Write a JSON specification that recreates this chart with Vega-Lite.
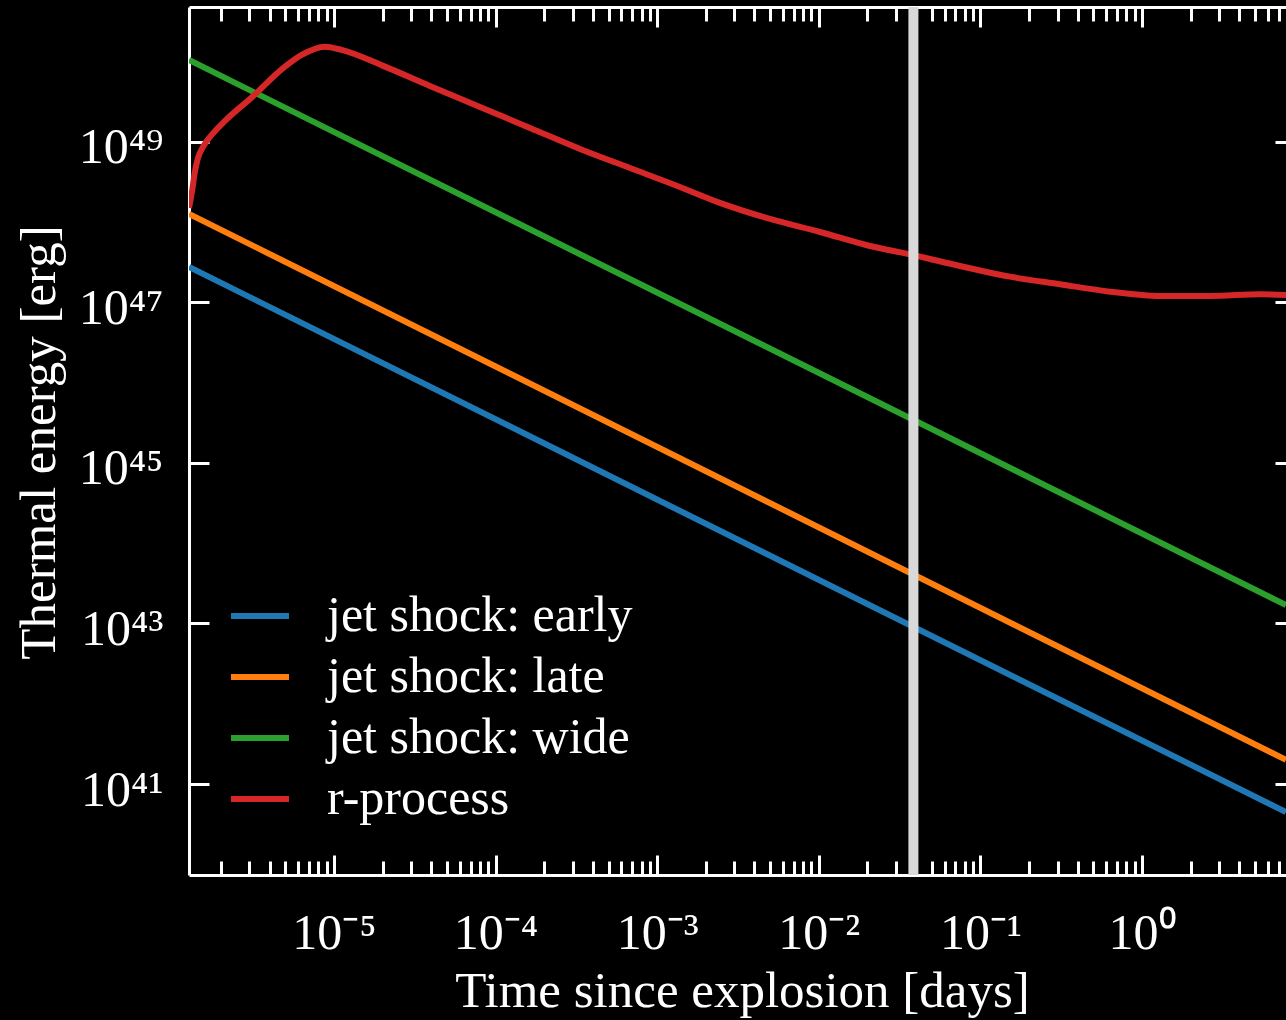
{
  "$schema": "https://vega.github.io/schema/vega-lite/v6.json",
  "width": 1097,
  "height": 868,
  "autosize": {"type": "none"},
  "padding": {"left": 189, "top": 7, "right": 0, "bottom": 145},
  "background": "black",
  "config": {
    "view": {"stroke": null},
    "font": "Liberation Serif",
    "axis": {
      "grid": false,
      "domainColor": "white",
      "domainWidth": 3,
      "tickColor": "white",
      "tickWidth": 3,
      "labelColor": "white",
      "labelFont": "Liberation Serif",
      "labelFontSize": 50,
      "labelOverlap": false,
      "labelFlush": false,
      "labelLimit": 0,
      "titleColor": "white",
      "titleFont": "Liberation Serif",
      "titleFontSize": 51,
      "titleFontWeight": "normal"
    },
    "legend": {
      "orient": "none",
      "legendX": 39,
      "legendY": 577,
      "symbolType": "stroke",
      "symbolSize": 3364,
      "symbolStrokeWidth": 6,
      "labelFont": "Liberation Serif",
      "labelFontSize": 50,
      "labelColor": "white",
      "labelOffset": 35,
      "labelLimit": 0,
      "rowPadding": 4,
      "padding": 0
    }
  },
  "datasets": {
    "curves": [
      {"series": "jet shock: early", "t": 1.268e-6, "E": 2.752e47},
      {"series": "jet shock: early", "t": 7.78, "E": 4.49e40},
      {"series": "jet shock: late", "t": 1.268e-6, "E": 1.259e48},
      {"series": "jet shock: late", "t": 7.78, "E": 2.0e41},
      {"series": "jet shock: wide", "t": 1.268e-6, "E": 1.04e50},
      {"series": "jet shock: wide", "t": 7.78, "E": 1.698e43},
      {"series": "r-process", "t": 1.268e-6, "E": 1.493e48},
      {"series": "r-process", "t": 1.328e-6, "E": 2.5e48},
      {"series": "r-process", "t": 1.374e-6, "E": 4.036e48},
      {"series": "r-process", "t": 1.44e-6, "E": 6.2e48},
      {"series": "r-process", "t": 1.547e-6, "E": 8.59e48},
      {"series": "r-process", "t": 1.835e-6, "E": 1.35e49},
      {"series": "r-process", "t": 2.116e-6, "E": 1.811e49},
      {"series": "r-process", "t": 3.095e-6, "E": 3.548e49},
      {"series": "r-process", "t": 4.975e-6, "E": 8.59e49},
      {"series": "r-process", "t": 6.31e-6, "E": 1.202e50},
      {"series": "r-process", "t": 8.796e-6, "E": 1.524e50},
      {"series": "r-process", "t": 1.116e-5, "E": 1.387e50},
      {"series": "r-process", "t": 2.068e-5, "E": 8.59e49},
      {"series": "r-process", "t": 3.926e-5, "E": 4.943e49},
      {"series": "r-process", "t": 8.008e-5, "E": 2.704e49},
      {"series": "r-process", "t": 1.633e-4, "E": 1.483e49},
      {"series": "r-process", "t": 3.33e-4, "E": 8.11e48},
      {"series": "r-process", "t": 6.787e-4, "E": 4.7e48},
      {"series": "r-process", "t": 1.384e-3, "E": 2.729e48},
      {"series": "r-process", "t": 2.446e-3, "E": 1.726e48},
      {"series": "r-process", "t": 4.989e-3, "E": 1.089e48},
      {"series": "r-process", "t": 1.017e-2, "E": 7.5e47},
      {"series": "r-process", "t": 2.074e-2, "E": 5.02e47},
      {"series": "r-process", "t": 3.827e-2, "E": 3.882e47},
      {"series": "r-process", "t": 7.478e-2, "E": 2.831e47},
      {"series": "r-process", "t": 0.1525, "E": 2.084e47},
      {"series": "r-process", "t": 0.3109, "E": 1.675e47},
      {"series": "r-process", "t": 0.6339, "E": 1.355e47},
      {"series": "r-process", "t": 1.292, "E": 1.197e47},
      {"series": "r-process", "t": 2.635, "E": 1.197e47},
      {"series": "r-process", "t": 5.373, "E": 1.259e47},
      {"series": "r-process", "t": 7.78, "E": 1.233e47}
    ],
    "marker": [{"t": 0.0385}]
  },
  "layer": [
    {
      "data": {"name": "curves"},
      "transform": [{"filter": "datum.series != 'r-process'"}],
      "mark": {"type": "line", "strokeWidth": 6, "clip": true},
      "encoding": {
        "x": {
          "field": "t",
          "type": "quantitative",
          "scale": {"type": "log", "domain": [1.268e-6, 7.78], "nice": false},
          "axis": {
            "orient": "bottom",
            "title": "Time since explosion [days]",
            "titleX": 553,
            "titleY": 131,
            "titleBaseline": "alphabetic",
            "values": [2e-6,3e-6,4e-6,5e-6,6e-6,7e-6,8e-6,9e-6,1e-5,2e-5,3e-5,4e-5,5e-5,6e-5,7e-5,8e-5,9e-5,0.0001,0.0002,0.0003,0.0004,0.0005,0.0006,0.0007,0.0008,0.0009,0.001,0.002,0.003,0.004,0.005,0.006,0.007,0.008,0.009,0.01,0.02,0.03,0.04,0.05,0.06,0.07,0.08,0.09,0.1,0.2,0.3,0.4,0.5,0.6,0.7,0.8,0.9,1,2,3,4,5,6,7],
            "labelExpr": "abs(log(datum.value)/LN10 - round(log(datum.value)/LN10)) > 0.01 ? '' : '10' + ['⁻⁶','⁻⁵','⁻⁴','⁻³','⁻²','⁻¹','⁰','¹'][round(log(datum.value)/LN10) + 6]",
            "labelBaseline": "alphabetic",
            "labelPadding": 93,
            "tickSize": {"condition": {"test": "abs(log(datum.value)/LN10 - round(log(datum.value)/LN10)) < 0.01", "value": -20}, "value": -14}
          }
        },
        "y": {
          "field": "E",
          "type": "quantitative",
          "scale": {"type": "log", "domain": [7.38e39, 4.75e50], "nice": false},
          "axis": {
            "orient": "left",
            "title": "Thermal energy [erg]",
            "titleX": -135,
            "titleY": 435,
            "titleBaseline": "alphabetic",
            "values": [1e41, 1e43, 1e45, 1e47, 1e49],
            "labelExpr": "'10' + ['⁴¹','⁴³','⁴⁵','⁴⁷','⁴⁹'][(round(log(datum.value)/LN10) - 41) / 2]",
            "labelPadding": 46,
            "labelOffset": 6,
            "tickSize": -20
          }
        },
        "color": {
          "field": "series",
          "type": "nominal",
          "title": null,
          "scale": {
            "domain": ["jet shock: early", "jet shock: late", "jet shock: wide", "r-process"],
            "range": ["#1f77b4", "#ff7f0e", "#2ca02c", "#d62728"]
          }
        }
      }
    },
    {
      "data": {"name": "curves"},
      "transform": [{"filter": "datum.series == 'r-process'"}],
      "mark": {"type": "line", "strokeWidth": 6, "clip": true, "interpolate": "monotone"},
      "encoding": {
        "x": {
          "field": "t",
          "type": "quantitative",
          "scale": {"type": "log", "domain": [1.268e-6, 7.78], "nice": false},
          "axis": {
            "orient": "top",
            "title": null,
            "labels": false,
            "values": [2e-6,3e-6,4e-6,5e-6,6e-6,7e-6,8e-6,9e-6,1e-5,2e-5,3e-5,4e-5,5e-5,6e-5,7e-5,8e-5,9e-5,0.0001,0.0002,0.0003,0.0004,0.0005,0.0006,0.0007,0.0008,0.0009,0.001,0.002,0.003,0.004,0.005,0.006,0.007,0.008,0.009,0.01,0.02,0.03,0.04,0.05,0.06,0.07,0.08,0.09,0.1,0.2,0.3,0.4,0.5,0.6,0.7,0.8,0.9,1,2,3,4,5,6,7],
            "tickSize": {"condition": {"test": "abs(log(datum.value)/LN10 - round(log(datum.value)/LN10)) < 0.01", "value": -20}, "value": -14}
          }
        },
        "y": {
          "field": "E",
          "type": "quantitative",
          "scale": {"type": "log", "domain": [7.38e39, 4.75e50], "nice": false},
          "axis": {
            "orient": "right",
            "title": null,
            "labels": false,
            "domain": false,
            "values": [1e41, 1e43, 1e45, 1e47, 1e49],
            "tickSize": -11
          }
        },
        "color": {
          "field": "series",
          "type": "nominal",
          "title": null,
          "scale": {
            "domain": ["jet shock: early", "jet shock: late", "jet shock: wide", "r-process"],
            "range": ["#1f77b4", "#ff7f0e", "#2ca02c", "#d62728"]
          }
        }
      }
    },
    {
      "data": {"name": "marker"},
      "mark": {"type": "rule", "color": "#d9d9d9", "strokeWidth": 10},
      "encoding": {
        "x": {"field": "t", "type": "quantitative", "axis": null}
      }
    }
  ],
  "resolve": {"axis": {"x": "independent", "y": "independent"}}
}
